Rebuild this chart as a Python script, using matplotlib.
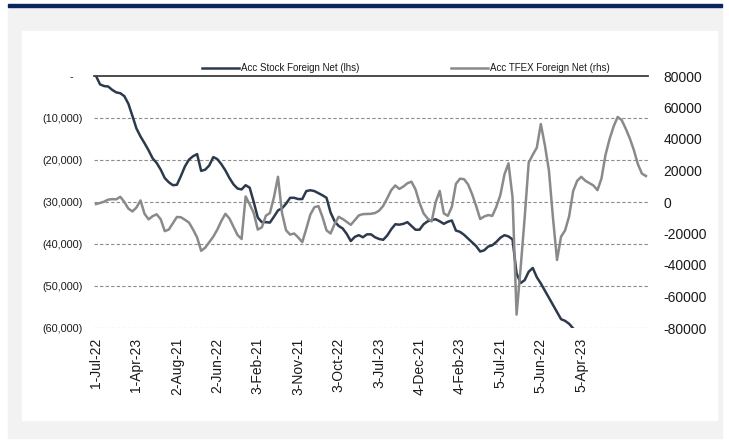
import matplotlib.pyplot as plt
import numpy as np
from matplotlib.patches import Rectangle
from matplotlib.lines import Line2D

plt.rcParams['font.family'] = ['Liberation Sans', 'DejaVu Sans']

# accumulated foreign net positions (lhs = stock, rhs = TFEX)
stock = [0, -2000, -2400, -2500, -3300, -3900, -4100, -4800, -6600, -9500,
         -12500, -14400, -16000, -17700, -19600, -20700, -22300, -24300, -25300, -26000,
         -25900, -23800, -21500, -19900, -19100, -18600, -22600, -22300, -21300, -19300,
         -19800, -21000, -22500, -24300, -25800, -26800, -27000, -26000, -26600, -30000,
         -33700, -34800, -34800, -34900, -33500, -32000, -31500, -30400, -29000, -29000,
         -29300, -29300, -27400, -27200, -27400, -27900, -28400, -29000, -32500, -34600,
         -35700, -36300, -37600, -39300, -38300, -37900, -38400, -37700, -37700, -38400,
         -38800, -39000, -38000, -36500, -35300, -35400, -35200, -34800, -35700, -36600,
         -36600, -35300, -34600, -34300, -34100, -34600, -35200, -34700, -34400, -36800,
         -37100, -37800, -38700, -39600, -40500, -41800, -41500, -40600, -40300, -39500,
         -38500, -37900, -38200, -38900, -47000, -49300, -48600, -46600, -45700, -47900,
         -49400, -51100, -52800, -54500, -56200, -57900, -58300, -59000, -60100, -61000,
         -61800, -62500, -63300, -64000, -64800, -65500, -66300, -67000, -67800, -68500,
         -69300, -70000, -70800, -71500, -72300, -73000, -73800]

tfex = [-1300, -600, 200, 1500, 1800, 1700, 3300, 0, -4200, -6000,
        -3500, 1000, -7500, -11000, -9000, -7800, -11000, -18500, -17500, -13500,
        -9500, -9700, -11300, -13100, -17500, -22500, -31000, -29000, -25500, -22000,
        -17500, -12000, -7500, -10500, -15700, -21000, -23500, 3500, -1500, -7000,
        -17500, -16100, -8700, -7000, 3000, 16000, -7000, -18000, -20700, -20000,
        -22500, -25500, -17000, -8000, -3300, -2600, -9500, -18000, -20000, -14000,
        -9400, -10800, -12600, -14500, -11500, -8500, -7700, -7600, -7500, -7000,
        -5500, -2500, 2300, 7500, 10500, 8300, 9800, 11900, 12900, 8000,
        -500, -7200, -10500, -12300, 0, 7000, -7200, -8800, -3000, 11500,
        14800, 14500, 11200, 5000, -2500, -10800, -9200, -8300, -8800, -3000,
        4500, 17500, 24500, 3000, -71500, -42000, -10000, 25000, 30000, 34500,
        49500, 36000, 20000, -10000, -36800, -22000, -18000, -9000, 7000, 13500,
        16000, 13500, 12000, 10500, 7500, 15000, 30000, 40000, 48000, 54000,
        52000, 46500, 40400, 33000, 24000, 18000, 16500]

date_labels = ['1-Jul-22', '1-Apr-23', '2-Aug-21', '2-Jun-22', '3-Feb-21', '3-Nov-21',
               '3-Oct-22', '3-Jul-23', '4-Dec-21', '4-Feb-23', '5-Jul-21', '5-Jun-22',
               '5-Apr-23']

left_ticks = [0, -10000, -20000, -30000, -40000, -50000, -60000]
right_ticks = [80000, 60000, 40000, 20000, 0, -20000, -40000, -60000, -80000]

stock_color = '#2d3a4d'
tfex_color = '#8a8a8a'

W, H = 729, 441
fig = plt.figure(figsize=(W / 100, H / 100), dpi=100)
fig.patch.set_facecolor('white')

# page background pieces (pixel boxes -> figure fraction)
def box(x0, y0, x1, y1, color):
    fig.patches.append(Rectangle((x0 / W, 1 - y1 / H), (x1 - x0) / W, (y1 - y0) / H,
                                 transform=fig.transFigure, color=color, zorder=-10))

box(8, 7, 722, 438, '#f2f2f2')
box(8, 4, 722, 7, '#0b2560')
box(22, 31, 717, 420, 'white')

ax = fig.add_axes([94 / W, 1 - 328 / H, (648 - 94) / W, (328 - 76) / H])
ax.set_facecolor('none')
ax2 = ax.twinx()

x1 = np.arange(len(stock))
x2 = np.arange(len(tfex))
ax.plot(x1, stock, color=stock_color, lw=1.8, solid_joinstyle='round')
ax2.plot(x2, tfex, color=tfex_color, lw=1.8, solid_joinstyle='round')

ax.set_xlim(-0.5, len(tfex) - 0.5)
ax.set_ylim(-60000, 0)
ax2.set_ylim(-80000, 80000)

ax.set_xticks(np.arange(0, len(tfex), 10)[:len(date_labels)])
ax.set_xticklabels(date_labels, rotation=90, fontsize=10, color='#1a1a1a')

def lhs_fmt(v):
    if v == 0:
        return '-   '
    return f'({abs(v):,.0f})'

ax.set_yticks(left_ticks)
ax.set_yticklabels([lhs_fmt(v) for v in left_ticks], fontsize=7.8, color='#1a1a1a')
ax2.set_yticks(right_ticks)
ax2.set_yticklabels([str(v) for v in right_ticks], fontsize=10, color='#1a1a1a')

ax.tick_params(axis='both', length=0)
ax.tick_params(axis='x', pad=7)
ax.tick_params(axis='y', pad=8)
ax2.tick_params(axis='y', length=0, pad=11)

for t in left_ticks[1:]:
    ax.axhline(t, color='#8c8c8c', lw=0.8, ls=(0, (3, 2)), zorder=0)

for a in (ax, ax2):
    for s in ('left', 'right', 'bottom'):
        a.spines[s].set_visible(False)
ax.spines['top'].set_color('#3f3f3f')
ax.spines['top'].set_linewidth(1.3)
ax2.spines['top'].set_visible(False)

handles = [Line2D([], [], color=stock_color, lw=1.8),
           Line2D([], [], color=tfex_color, lw=1.8)]
fig.legend(handles, ['Acc Stock Foreign Net (lhs)', 'Acc TFEX Foreign Net (rhs)'],
           loc='center', bbox_to_anchor=(406 / W, 1 - 68 / H), ncol=2, frameon=False,
           fontsize=7, handlelength=3.8, handletextpad=0.2, columnspacing=9.5,
           labelcolor='#1a1a1a')

fig.savefig('out.png', dpi=100)
